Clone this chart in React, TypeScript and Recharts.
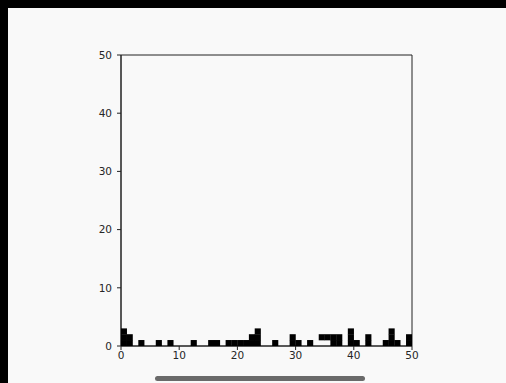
import React from 'react';
import { ScatterChart, Scatter, XAxis, YAxis, ReferenceArea } from 'recharts';

// occupied grid cells, read column by column (row 0 = bottom)
const columns = [0, 1, 3, 6, 8, 12, 15, 16, 18, 19, 20, 21, 22, 23, 26, 29, 30, 32, 34, 35, 36, 37, 39, 40, 42, 45, 46, 47, 49];
const filledRows = [
  [0, 1, 2], [0, 1], [0], [0], [0], [0], [0], [0], [0], [0], [0], [0], [0, 1], [0, 1, 2],
  [0], [0, 1], [0], [0], [1], [1], [0, 1], [0, 1], [0, 1, 2], [0], [0, 1], [0], [0, 1, 2], [0], [0, 1],
];
const xTicks = [0, 10, 20, 30, 40, 50];
const yTicks = [0, 10, 20, 30, 40, 50];

const cells = columns.flatMap((c, i) => filledRows[i].map((r) => ({ x: c + 0.5, y: r + 0.5 })));

const CELL = 291 / 50; // pixel size of one grid unit in the plot

const Square = (props: any) => {
  const { cx, cy } = props;
  const s = CELL + 0.3;
  return <rect x={cx - s / 2} y={cy - s / 2} width={s} height={s} fill="#000" />;
};

const tickStyle = { fontSize: 10.5, fill: '#262626', fontFamily: 'DejaVu Sans' };

export default function App() {
  return (
    <div style={{ position: 'absolute', left: 0, top: 0, width: 506, height: 383, background: '#000', overflow: 'hidden' }}>
      <div style={{ position: 'absolute', left: 8, top: 8, width: 498, height: 375, background: '#f9f9f9' }} />
      <div style={{ position: 'absolute', left: 0, top: 0 }}>
        <ScatterChart width={506} height={383} margin={{ top: 55, right: 94, bottom: 17, left: 81 }}>
          <XAxis
            type="number"
            dataKey="x"
            domain={[0, 50]}
            ticks={xTicks}
            allowDataOverflow
            height={20}
            tickSize={4}
            tick={tickStyle}
            stroke="#222"
          />
          <YAxis
            type="number"
            dataKey="y"
            domain={[0, 50]}
            ticks={yTicks}
            allowDataOverflow
            width={40}
            tickSize={4}
            tickMargin={5}
            tick={tickStyle}
            stroke="#222"
          />
          <ReferenceArea x1={0} x2={50} y1={0} y2={50} fill="none" stroke="#222" strokeWidth={1} ifOverflow="visible" />
          <Scatter data={cells} shape={<Square />} isAnimationActive={false} />
        </ScatterChart>
      </div>
      <div style={{ position: 'absolute', left: 155, top: 376, width: 210, height: 5, borderRadius: 3, background: '#6a6a6a' }} />
    </div>
  );
}
